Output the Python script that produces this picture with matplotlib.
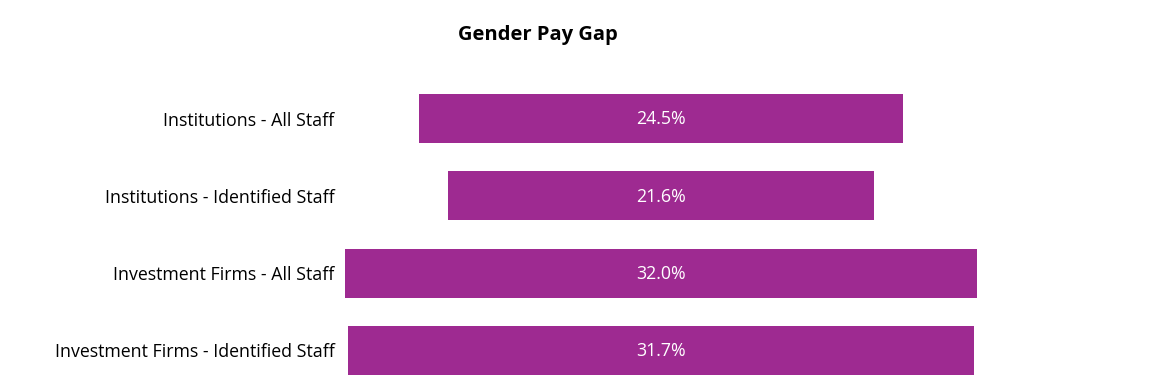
import matplotlib.pyplot as plt

categories = ['Institutions - All Staff', 'Institutions - Identified Staff',
              'Investment Firms - All Staff', 'Investment Firms - Identified Staff']
values = [24.5, 21.6, 32.0, 31.7]

bar_color = '#9E2A91'
plt.rcParams['font.family'] = ['Open Sans', 'DejaVu Sans']

fig = plt.figure(figsize=(11.61, 3.91), dpi=100)
# axes placed so that 0 sits at pixel 661, bars centered there
ax = fig.add_axes([340 / 1161, 0, 642 / 1161, 311 / 391])

scale = 19.72
ax.set_xlim(-321 / scale, 321 / scale)
ax.set_ylim(3 + 40.5 / 77.33, -38.5 / 77.33)

pos = list(range(len(categories)))
lefts = [-v / 2 for v in values]
ax.barh(pos, values, left=lefts, height=0.635, color=bar_color)

for p, v in zip(pos, values):
    ax.text(0, p + 0.01, f'{v:.1f}%', ha='center', va='center', color='white', fontsize=12.8)

ax.set_yticks(pos)
ax.set_yticklabels(categories, fontsize=12.8)
ax.tick_params(axis='y', length=0, pad=4)
ax.set_xticks([])
for s in ax.spines.values():
    s.set_visible(False)

fig.text(538 / 1161, 1 - 35 / 391, 'Gender Pay Gap', ha='center', va='center',
         fontsize=14.5, fontweight='bold')

fig.savefig('out.png', dpi=100)
